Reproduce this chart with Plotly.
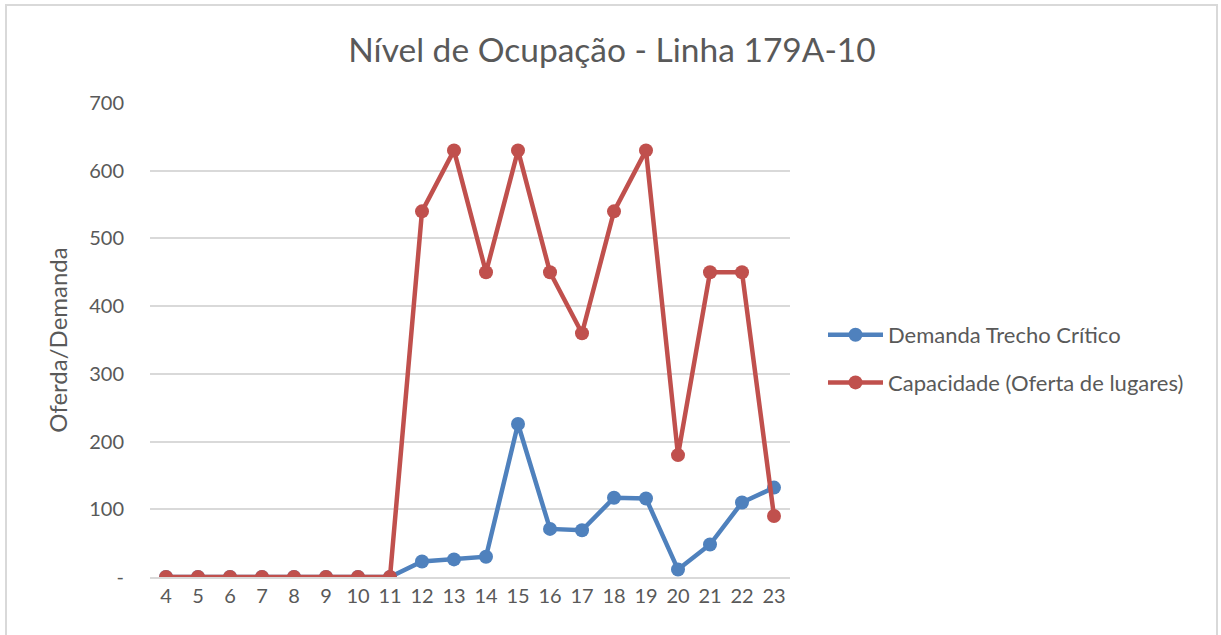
import plotly.graph_objects as go

horas = [str(h) for h in range(4, 24)]
demanda = [0, 0, 0, 0, 0, 0, 0, 0, 23, 26, 30, 226, 71, 69, 117, 116, 11, 48, 110, 132]
capacidade = [0, 0, 0, 0, 0, 0, 0, 0, 540, 630, 450, 630, 450, 360, 540, 630, 180, 450, 450, 90]
y_ticks = [0, 100, 200, 300, 400, 500, 600, 700]
y_labels = ["-", "100", "200", "300", "400", "500", "600", "700"]

FONT = "Lato, 'Open Sans', sans-serif"
fig = go.Figure()
fig.add_trace(go.Scatter(x=horas, y=demanda, mode="lines+markers", name="Demanda Trecho Crítico",
                         legendgroup="a",
                         line=dict(color="#4F81BD", width=4.5), marker=dict(size=14, color="#4F81BD")))
fig.add_trace(go.Scatter(x=horas, y=capacidade, mode="lines+markers", name="Capacidade (Oferta de lugares)",
                         legendgroup="b",
                         line=dict(color="#C0504D", width=4.5), marker=dict(size=14, color="#C0504D")))

L, R, T, B = 150, 790, 103, 577
W, H = 1221, 635
fig.update_layout(
    width=W, height=H,
    margin=dict(l=L, r=W - R, t=T, b=H - B),
    paper_bgcolor="white", plot_bgcolor="white",
    font=dict(family=FONT, color="#595959", size=20),
    title=dict(text="Nível de Ocupação - Linha 179A-10", x=612 / W, xanchor="center",
               y=1 - 50 / H, yanchor="middle", font=dict(size=33.5, color="#595959", family=FONT)),
    legend=dict(x=(823 - L) / (R - L), y=(B - 314) / (B - T), xanchor="left", yanchor="top",
                font=dict(size=22, color="#595959"), tracegroupgap=16, itemwidth=55,
                bgcolor="rgba(0,0,0,0)"),
    xaxis=dict(type="category", showgrid=False, showline=True, linecolor="#d9d9d9", linewidth=1.5,
               ticks="", tickfont=dict(size=20), range=[-0.5, 19.5]),
    yaxis=dict(range=[0, 700], tickvals=y_ticks, ticktext=y_labels, showgrid=True,
               gridcolor="#d9d9d9", gridwidth=1.5, zeroline=False, showline=False, ticks="",
               ticklabelstandoff=25, tickfont=dict(size=20),
               title=dict(text="Oferda/Demanda", font=dict(size=24), standoff=14)),
    shapes=[dict(type="rect", xref="paper", yref="paper",
                 x0=(6 - L) / (R - L), x1=(1217 - L) / (R - L),
                 y0=(B - 645) / (B - T), y1=(B - 5) / (B - T),
                 line=dict(color="#d9d9d9", width=2), fillcolor="rgba(0,0,0,0)", layer="below")],
)
fig.write_html("out.html", config={"displayModeBar": False},
               post_script="document.body.style.margin='0';")
